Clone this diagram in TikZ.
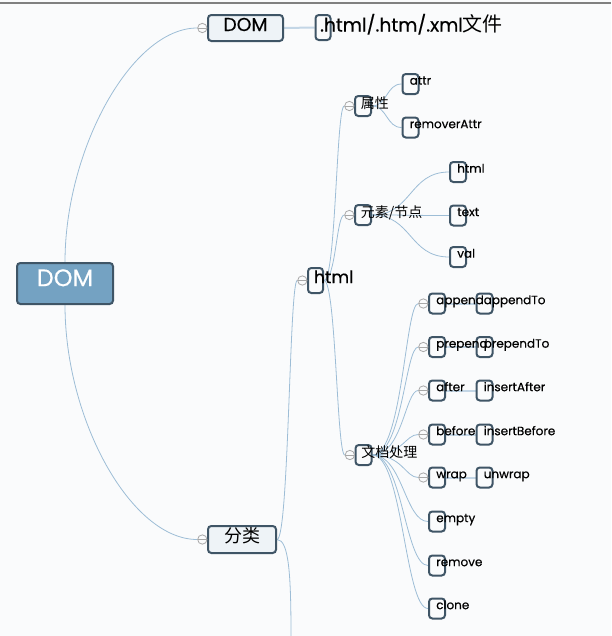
\documentclass[tikz,border=0pt]{standalone}
\usepackage{fontspec}
\setmainfont{Poppins}[FakeBold=0.4]
\newfontfamily\cjk{Noto Sans CJK SC}
\usetikzlibrary{positioning}
\pgfdeclarelayer{bg}
\pgfdeclarelayer{fg}
\pgfsetlayers{bg,main,fg}

\definecolor{bgc}{HTML}{FAFBFC}
\definecolor{edgec}{HTML}{3F5566}
\definecolor{linkc}{HTML}{9DBDD6}
\definecolor{linkb}{HTML}{C3D6E6}
\definecolor{rootc}{HTML}{74A2C2}
\definecolor{midc}{HTML}{EEF3F7}
\definecolor{foldc}{HTML}{A8A8A8}

\tikzset{
  box/.style={draw=edgec, line width=1.5pt, rounded corners=2.5pt, fill=bgc, inner sep=0pt},
  leaf/.style={box, minimum width=12pt, minimum height=15pt},
  tall/.style={box, minimum width=11.25pt, minimum height=18.75pt},
  fold/.style={circle, draw=foldc, fill=bgc, line width=0.6pt, minimum size=7pt, inner sep=0pt,
    path picture={\draw[foldc, line width=0.6pt] (path picture bounding box.west) -- (path picture bounding box.east);}},
  txt/.style={inner sep=0pt, anchor=base west, font=\fontsize{9}{10}\selectfont},
  ztxt/.style={inner sep=0pt, anchor=base west, font=\cjk\fontsize{10.5}{12}\selectfont},
  link/.style={draw=linkc, line width=0.6pt},
  linkB/.style={draw=linkb, line width=1.5pt},
}

\begin{document}
\begin{tikzpicture}[x=0.75pt, y=-0.75pt]
    \useasboundingbox (0,0) rectangle (611,636);
    \begin{pgfonlayer}{bg}
        \fill[bgc] (0,0) rectangle (611,636);
        \draw[gray, line width=1.2pt] (0,3) -- (611,3);
    \end{pgfonlayer}

    % root
    \node[box, fill=rootc, minimum width=72pt, minimum height=30.75pt] (root) at (65,283.5) {};
    \node[inner sep=0pt, anchor=base, text=white, font=\fontsize{18}{20}\selectfont] (rootT) at ([yshift=-2pt]root.center) {DOM};

    % DOM branch
    \node[box, fill=midc, minimum width=56.25pt, minimum height=19.5pt] (dom) at (245.5,28) {};
    \node[inner sep=0pt, anchor=base, font=\fontsize{14}{16}\selectfont] (domT) at ([yshift=-2.25pt]dom.center) {DOM};
    \node[fold] (domF) at ([xshift=-3.5pt]dom.west) {};
    \node[tall] (file) at (323,27.5) {};
    \begin{pgfonlayer}{fg}
        \node[inner sep=0pt, anchor=base west, font=\fontsize{14}{16}\selectfont] (fileT) at ([xshift=4pt,yshift=-3pt]file.west) {.html/.htm/.xml{\cjk\fontsize{15}{16}\selectfont 文件}};
    \end{pgfonlayer}

    % 分类 branch
    \node[box, fill=midc, minimum width=51pt, minimum height=20.25pt] (cls) at (242,539.5) {};
    \node[inner sep=0pt, anchor=base, font=\cjk\fontsize{13.5}{15}\selectfont] (clsT) at ([yshift=-2pt]cls.center) {分类};
    \node[fold] (clsF) at ([xshift=-3.5pt]cls.west) {};
    \coordinate (more) at (291,636);

    % html
    \node[tall] (html) at (315.5,280.5) {};
    \node[fold] (htmlF) at ([xshift=-3.5pt]html.west) {};
    \begin{pgfonlayer}{fg}
        \node[inner sep=0pt, anchor=base west, font=\fontsize{13}{15}\selectfont] (htmlT) at ([xshift=5pt,yshift=-2pt]html.west) {html};
    \end{pgfonlayer}

    % 属性
    \node[leaf] (attrs) at (363,106) {};
    \node[fold] (attrsF) at ([xshift=-3.5pt]attrs.west) {};
    \node[leaf] (attr) at (410.5,84) {};
    \node[leaf] (rmattr) at (410.5,127.5) {};
    \begin{pgfonlayer}{fg}
        \node[ztxt] (attrsT) at ([xshift=5pt,yshift=-1.5pt]attrs.west) {属性};
        \node[txt] (attrT) at ([xshift=6pt,yshift=-0.5pt]attr.west) {attr};
        \node[txt] (rmattrT) at ([xshift=6pt,yshift=-0.5pt]rmattr.west) {removerAttr};
    \end{pgfonlayer}

    % 元素/节点
    \node[leaf] (elem) at (363,215) {};
    \node[fold] (elemF) at ([xshift=-3.5pt]elem.west) {};
    \begin{pgfonlayer}{fg}
        \node[ztxt] (elemT) at ([xshift=5pt,yshift=-1.5pt]elem.west) {元素/节点};
    \end{pgfonlayer}
    \foreach \n/\y [count=\i] in {html/172, text/215.5, val/257} {
        \node[leaf] (e\i) at (458,\y) {};
        \begin{pgfonlayer}{fg}
            \node[txt] (et\i) at ([xshift=6pt,yshift=-0.5pt]e\i.west) {\n};
        \end{pgfonlayer}
        \begin{pgfonlayer}{bg}
            \draw[link] (elem.east) .. controls +(40,0) and +(-40,0) .. (e\i.west);
        \end{pgfonlayer}
    }

    % 文档处理
    \node[leaf] (doc) at (363.5,455) {};
    \node[fold] (docF) at ([xshift=-3.5pt]doc.west) {};
    \begin{pgfonlayer}{fg}
        \node[ztxt] (docT) at ([xshift=5pt,yshift=-1.5pt]doc.west) {文档处理};
    \end{pgfonlayer}
    \foreach \a/\b/\y [count=\i] in {append/appendTo/303.5, prepend/prependTo/347, after/insertAfter/390.5, before/insertBefore/434.5, wrap/unwrap/477.5} {
        \node[leaf] (p\i) at (437,\y) {};
        \node[fold] (pf\i) at ([xshift=-3.5pt]p\i.west) {};
        \node[leaf] (q\i) at (484.5,\y) {};
        \begin{pgfonlayer}{fg}
            \node[txt] (pt\i) at ([xshift=6pt,yshift=-0.5pt]p\i.west) {\a};
            \node[txt] (qt\i) at ([xshift=6pt,yshift=-0.5pt]q\i.west) {\b};
        \end{pgfonlayer}
        \begin{pgfonlayer}{bg}
            \draw[link] (doc.east) .. controls +(30,0) and +(-13,0) .. (pf\i.west);
            \draw[linkB] (p\i.east) -- (q\i.west);
        \end{pgfonlayer}
    }
    \foreach \n/\y [count=\i] in {empty/521.5, remove/565.5, clone/608.5} {
        \node[leaf] (r\i) at (437,\y) {};
        \begin{pgfonlayer}{fg}
            \node[txt] (rt\i) at ([xshift=6pt,yshift=-0.5pt]r\i.west) {\n};
        \end{pgfonlayer}
        \begin{pgfonlayer}{bg}
            \draw[link] (doc.east) .. controls +(30,0) and +(-23,0) .. (r\i.west);
        \end{pgfonlayer}
    }

    % connectors
    \begin{pgfonlayer}{bg}
        \draw[link] (root.north) .. controls +(0,-112) and +(-66,0) .. (domF.west);
        \draw[link] (root.south) .. controls +(0,115) and +(-66,0) .. (clsF.west);
        \draw[linkB] (dom.east) -- (file.west);
        \draw[link] (cls.east) .. controls +(12,0) and +(-8,0) .. (htmlF.west);
        \draw[link] (cls.east) .. controls +(12,0) and +(0,-60) .. (more);
        \draw[link] (html.east) .. controls +(12,0) and +(-8,0) .. (attrsF.west);
        \draw[link] (html.east) .. controls +(12,0) and +(-8,0) .. (elemF.west);
        \draw[link] (html.east) .. controls +(12,0) and +(-8,0) .. (docF.west);
        \draw[link] (attrs.east) .. controls +(15,0) and +(-15,0) .. (attr.west);
        \draw[link] (attrs.east) .. controls +(15,0) and +(-15,0) .. (rmattr.west);
    \end{pgfonlayer}
\end{tikzpicture}
\end{document}
